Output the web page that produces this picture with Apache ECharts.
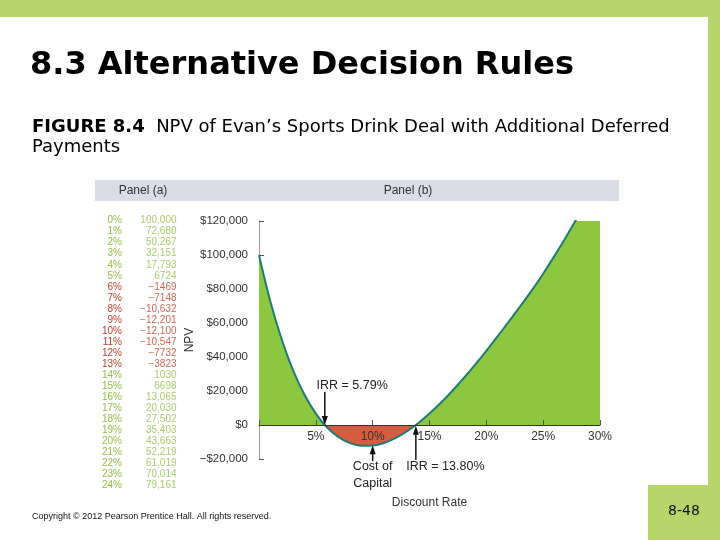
<!DOCTYPE html>
<html>
<head>
<meta charset="utf-8">
<title>NPV of Evan's Sports Drink Deal</title>
<script src="https://cdn.jsdelivr.net/npm/echarts@6.0.0/dist/echarts.min.js"></script>
<style>
  html, body { margin: 0; padding: 0; background: #fff; }
  #main { width: 720px; height: 540px; }
</style>
</head>
<body>
<div id="main"></div>
<script>
// Panel (a): discount rate (%) and NPV ($)
const tableRates = [0, 1, 2, 3, 4, 5, 6, 7, 8, 9, 10, 11, 12, 13, 14, 15, 16, 17, 18, 19, 20, 21, 22, 23, 24];
const tableNpv = [100000, 72680, 50267, 32151, 17793, 6724, -1469, -7148, -10632, -12201,
  -12100, -10547, -7732, -3823, 1030, 6698, 13065, 20030, 27502, 35403,
  43663, 52219, 61019, 70014, 79161];

// Panel (b) curve goes on past 24% (it runs off the top)
const extraRates = [25, 26, 27, 28, 29, 30];
const extraNpv = [89000, 99500, 110500, 122000, 134000, 146000];

// annotations: arrow at x from -> to (NPV), text centre in data units
const annotations = [
  { text: 'IRR = 5.79%', x: 5.79, from: 19400, to: 0, tx: 8.2, ty: 23500 },
  { text: 'IRR = 13.80%', x: 13.80, from: -20600, to: -500, tx: 16.4, ty: -24700 },
  { text: 'Cost of\nCapital', x: 10, from: -21200, to: -11900, tx: 10, ty: -29200 }
];

const Y_MIN = -20000;
const Y_MAX = 120000;

const GREEN = '#8dc63f';
const RED = '#d65b3f';
const TEAL = '#1d7b78';
const TABLE_GREEN = '#93c047';
const TABLE_RED = '#c0412b';
const BAND = '#b6d66c';
const FONT = '"Liberation Sans", Arial, sans-serif';

const myChart = echarts.init(document.getElementById('main'));

function fmtTable(v) {
  const a = Math.abs(v);
  const s = a >= 10000 ? a.toLocaleString('en-US') : String(a);
  return (v < 0 ? '\u2212' : '') + s;
}

function fmtDollar(v) {
  if (v === 0) return '$0';
  return (v < 0 ? '\u2212$' : '$') + Math.abs(v).toLocaleString('en-US');
}

function buildOption() {
  const rates = tableRates.concat(extraRates);
  const npv = tableNpv.concat(extraNpv);
  const curve = rates.map((r, i) => [r, npv[i]]);

  const gridTop = 221, gridBottom = 81;
  const gridHeight = 540 - gridTop - gridBottom;
  // lift the rate axis from the grid bottom up to NPV = 0
  const zeroOffset = -gridHeight * (0 - Y_MIN) / (Y_MAX - Y_MIN);

  return {
    animation: false,
    grid: [
      { left: 259, right: 120, top: gridTop, bottom: gridBottom, outerBoundsMode: 'none' },
      { left: 126, top: 215.2, width: 52, height: 275.3, outerBoundsMode: 'none' }
    ],
    xAxis: [{
      type: 'value',
      min: 0, max: 30, interval: 5,
      z: 5,
      offset: zeroOffset,
      axisLine: { onZero: false, lineStyle: { color: '#333', width: 1 } },
      axisTick: { inside: true, length: 5, lineStyle: { color: '#555' } },
      splitLine: { show: false },
      axisLabel: {
        margin: 6,
        fontSize: 12,
        fontFamily: FONT,
        showMinLabel: true, showMaxLabel: true,
        formatter: v => v === 0 ? '' : v + '%',
        color: v => (v === 10 ? '#f6dcd4' : '#333')
      },
      name: 'Discount Rate',
      nameLocation: 'middle',
      nameGap: 72,
      nameTextStyle: { fontSize: 12, color: '#333', fontFamily: FONT }
    }, {
      type: 'value', gridIndex: 1, min: 0, max: 1, show: false
    }],
    yAxis: [{
      type: 'value',
      min: Y_MIN, max: Y_MAX, interval: 20000,
      axisLine: { show: true, lineStyle: { color: '#999' } },
      axisTick: { show: true, inside: true, length: 5, lineStyle: { color: '#555' } },
      splitLine: { show: false },
      axisLabel: {
        margin: 11,
        fontSize: 11.5,
        fontFamily: FONT,
        color: '#333',
        showMinLabel: true, showMaxLabel: true,
        formatter: fmtDollar
      },
      name: 'NPV',
      nameLocation: 'middle',
      nameRotate: 90,
      nameGap: 57,
      nameTextStyle: { fontSize: 12, color: '#333', fontFamily: FONT }
    }, {
      type: 'category',
      gridIndex: 1,
      inverse: true,
      data: tableRates.map(r => r + '%'),
      axisLine: { show: false },
      axisTick: { show: false },
      axisLabel: {
        margin: 4,
        fontSize: 10,
        fontFamily: FONT,
        interval: 0,
        color: (val, idx) => (tableNpv[idx] < 0 ? TABLE_RED : TABLE_GREEN)
      }
    }],
    visualMap: {
      type: 'piecewise',
      show: false,
      seriesIndex: 0,
      dimension: 1,
      pieces: [
        { gte: -1000000, lt: 0, color: RED },
        { gte: 0, lte: 1000000, color: GREEN }
      ]
    },
    series: [{
      // filled area, green above $0 and red below
      type: 'line',
      data: curve,
      smooth: 0.4,
      symbol: 'none',
      lineStyle: { width: 0 },
      areaStyle: { opacity: 1 },
      z: 2
    }, {
      // the NPV profile
      type: 'line',
      data: curve,
      smooth: 0.4,
      symbol: 'none',
      lineStyle: { color: TEAL, width: 2 },
      z: 3
    }, {
      // Panel (a) values
      type: 'scatter',
      xAxisIndex: 1,
      yAxisIndex: 1,
      symbolSize: 1,
      itemStyle: { color: 'rgba(0,0,0,0)' },
      data: tableNpv.map((v, i) => ({
        value: [1, i],
        label: { color: v < 0 ? TABLE_RED : TABLE_GREEN }
      })),
      label: {
        show: true,
        position: 'left',
        distance: 1,
        fontSize: 10,
        fontFamily: FONT,
        formatter: p => fmtTable(tableNpv[p.dataIndex])
      }
    }]
  };
}

function decorations() {
  return [
    { type: 'rect', shape: { x: 0, y: 0, width: 720, height: 17 }, style: { fill: BAND }, silent: true },
    { type: 'rect', shape: { x: 708, y: 0, width: 12, height: 540 }, style: { fill: BAND }, silent: true },
    { type: 'rect', shape: { x: 648, y: 485, width: 72, height: 55 }, style: { fill: BAND }, silent: true },
    { type: 'text', x: 684, y: 511, style: { text: '8-48', align: 'center', verticalAlign: 'middle', font: '14px "DejaVu Sans", sans-serif', fill: '#111' } },
    { type: 'text', x: 30, y: 66, style: { text: '8.3 Alternative Decision Rules', verticalAlign: 'middle', font: 'bold 32px "DejaVu Sans", Verdana, sans-serif', fill: '#000' } },
    {
      type: 'text', x: 32, y: 117,
      style: {
        text: '{b|FIGURE 8.4}  NPV of Evan\u2019s Sports Drink Deal with Additional Deferred\nPayments',
        verticalAlign: 'top',
        font: '18px "DejaVu Sans", sans-serif',
        lineHeight: 20,
        fill: '#000',
        rich: { b: { font: 'bold 18px "DejaVu Sans", sans-serif', fill: '#000', lineHeight: 20 } }
      }
    },
    { type: 'rect', shape: { x: 95, y: 180, width: 524, height: 21 }, style: { fill: '#dadde7' }, silent: true },
    { type: 'text', x: 143, y: 190.5, style: { text: 'Panel (a)', align: 'center', verticalAlign: 'middle', font: '12px "Liberation Sans Narrow", "Liberation Sans", sans-serif', fill: '#333' } },
    { type: 'text', x: 408, y: 190.5, style: { text: 'Panel (b)', align: 'center', verticalAlign: 'middle', font: '12px "Liberation Sans Narrow", "Liberation Sans", sans-serif', fill: '#333' } },
    { type: 'text', x: 32, y: 517, style: { text: 'Copyright \u00a9 2012 Pearson Prentice Hall. All rights reserved.', verticalAlign: 'middle', font: '9px "Liberation Sans", sans-serif', fill: '#111' } }
  ];
}

function arrows() {
  const px = (x, y) => myChart.convertToPixel({ gridIndex: 0 }, [x, y]);
  const items = [];
  annotations.forEach(a => {
    const from = px(a.x, a.from);
    const tip = px(a.x, a.to);
    const dir = tip[1] > from[1] ? 1 : -1;
    items.push({
      type: 'line', z: 10,
      shape: { x1: from[0], y1: from[1], x2: tip[0], y2: tip[1] - dir * 6 },
      style: { stroke: '#111', lineWidth: 1.5 }
    });
    items.push({
      type: 'polygon', z: 10,
      shape: { points: [[tip[0], tip[1]], [tip[0] - 3, tip[1] - dir * 9], [tip[0] + 3, tip[1] - dir * 9]] },
      style: { fill: '#111' }
    });
    const t = px(a.tx, a.ty);
    items.push({
      type: 'text', z: 10, x: t[0], y: t[1],
      style: { text: a.text, align: 'center', verticalAlign: 'middle', font: '12.5px ' + FONT, lineHeight: 17, fill: '#222' }
    });
  });
  return items;
}

myChart.setOption(buildOption());
myChart.setOption({ graphic: decorations().concat(arrows()) });
</script>
</body>
</html>
